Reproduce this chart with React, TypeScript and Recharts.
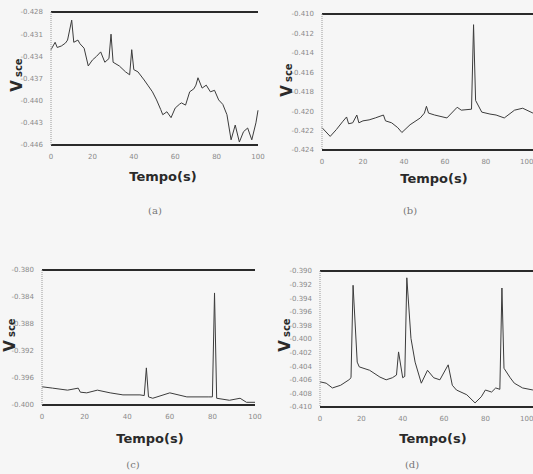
import React from 'react';
import { LineChart, Line, XAxis, YAxis, ReferenceLine } from 'recharts';

// panel (a)
const timeA = [0, 2, 3, 5, 7, 8, 10, 11, 13, 14, 16, 18, 20, 22, 24, 26, 28, 29, 30, 33, 36, 38, 39, 40, 42, 45, 47, 49, 51, 53, 54, 56, 58, 60, 62, 63, 65, 67, 69, 70, 71, 73, 75, 77, 79, 81, 83, 85, 87, 89, 91, 93, 95, 97, 99, 100];
const vsceA = [-0.4331, -0.4321, -0.4328, -0.4326, -0.4322, -0.4318, -0.4291, -0.4321, -0.4318, -0.4323, -0.4329, -0.4353, -0.4345, -0.4340, -0.4334, -0.4348, -0.4343, -0.4310, -0.4348, -0.4353, -0.4361, -0.4365, -0.4331, -0.4358, -0.4361, -0.4372, -0.4380, -0.4388, -0.4399, -0.4412, -0.4419, -0.4415, -0.4423, -0.4410, -0.4405, -0.4403, -0.4406, -0.4388, -0.4384, -0.4379, -0.4369, -0.4383, -0.4379, -0.4388, -0.4386, -0.4399, -0.4405, -0.4419, -0.4453, -0.4433, -0.4456, -0.4442, -0.4437, -0.4453, -0.4430, -0.4413];
const ticksA = [-0.446, -0.443, -0.44, -0.437, -0.434, -0.431, -0.428];

// panel (b)
const timeB = [0, 4, 7, 10, 12, 13, 15, 17, 18, 20, 23, 26, 30, 31, 34, 37, 39, 43, 48, 50, 51, 52, 55, 61, 66, 68, 73, 74, 75, 78, 82, 85, 89, 94, 98, 103];
const vsceB = [-0.4217, -0.4226, -0.4219, -0.4211, -0.4206, -0.4213, -0.4212, -0.4204, -0.4212, -0.4210, -0.4209, -0.4207, -0.4204, -0.4210, -0.4212, -0.4217, -0.4222, -0.4214, -0.4207, -0.4202, -0.4195, -0.4202, -0.4204, -0.4207, -0.4196, -0.4199, -0.4198, -0.4111, -0.4189, -0.4201, -0.4203, -0.4204, -0.4207, -0.4199, -0.4197, -0.4202];
const ticksB = [-0.424, -0.422, -0.42, -0.418, -0.416, -0.414, -0.412, -0.41];

// panel (c)
const timeC = [0, 5, 12, 17, 18, 21, 26, 32, 38, 46, 48, 49, 50, 52, 60, 68, 78, 80, 81, 82, 88, 93, 96, 100];
const vsceC = [-0.3973, -0.3975, -0.3978, -0.3975, -0.3981, -0.3982, -0.3978, -0.3982, -0.3985, -0.3985, -0.3986, -0.3945, -0.3988, -0.3990, -0.3982, -0.3988, -0.3988, -0.3988, -0.3834, -0.3990, -0.3993, -0.3990, -0.3996, -0.3996];
const ticksC = [-0.4, -0.396, -0.392, -0.388, -0.384, -0.38];

// panel (d)
const timeD = [0, 3, 6, 10, 14, 15, 16, 18, 19, 24, 29, 32, 35, 37, 38, 40, 41, 42, 44, 46, 49, 52, 55, 58, 62, 64, 66, 71, 75, 78, 80, 83, 85, 87, 88, 89, 92, 94, 98, 103];
const vsceD = [-0.4063, -0.4065, -0.4072, -0.4068, -0.4060, -0.4057, -0.3921, -0.4034, -0.4041, -0.4046, -0.4056, -0.4060, -0.4057, -0.4053, -0.4019, -0.4057, -0.4055, -0.3910, -0.3999, -0.4034, -0.4065, -0.4046, -0.4057, -0.4060, -0.4038, -0.4068, -0.4075, -0.4082, -0.4094, -0.4085, -0.4075, -0.4078, -0.4072, -0.4074, -0.3925, -0.4043, -0.4057, -0.4065, -0.4072, -0.4075];
const ticksD = [-0.41, -0.408, -0.406, -0.404, -0.402, -0.4, -0.398, -0.396, -0.394, -0.392, -0.39];

const xTicks = [0, 20, 40, 60, 80, 100];

const toRows = (t: number[], v: number[]) => t.map((x, i) => ({ t: x, v: v[i] }));

interface PanelProps {
  rows: { t: number; v: number }[];
  yTicks: number[];
  xMax: number;
  left: number;
  top: number;
  width: number;
  axisWidth: number;
  marginTop: number;
  marginRight: number;
  plotHeight: number;
}

function Panel({ rows, yTicks, xMax, left, top, width, axisWidth, marginTop, marginRight, plotHeight }: PanelProps) {
  const yMin = yTicks[0];
  const yMax = yTicks[yTicks.length - 1];
  const height = marginTop + plotHeight + 20;
  return (
    <div style={{ position: 'absolute', left, top }}>
      <LineChart width={width} height={height} data={rows} margin={{ top: marginTop, right: marginRight, bottom: 0, left: 0 }}>
        <XAxis
          dataKey="t"
          type="number"
          domain={[0, xMax]}
          ticks={xTicks}
          height={20}
          axisLine={{ stroke: '#2a2a2a', strokeWidth: 2 }}
          tickLine={false}
          tick={{ fontSize: 7, fill: '#8a8a8a', fontFamily: 'DejaVu Sans' }}
          tickMargin={3}
        />
        <YAxis
          type="number"
          domain={[yMin, yMax]}
          ticks={yTicks}
          width={axisWidth}
          tickFormatter={(v: number) => v.toFixed(3)}
          axisLine={{ stroke: '#9a9a9a', strokeDasharray: '1 1' }}
          tickLine={false}
          tick={{ fontSize: 7, fill: '#8a8a8a', fontFamily: 'DejaVu Sans' }}
          tickMargin={2}
        />
        <ReferenceLine y={yMax} stroke="#2a2a2a" strokeWidth={2} />
        <Line
          type="linear"
          dataKey="v"
          stroke="#3c3c3c"
          strokeWidth={1}
          dot={false}
          isAnimationActive={false}
        />
      </LineChart>
    </div>
  );
}

function VLabel({ x, y }: { x: number; y: number }) {
  return (
    <text transform={`translate(${x},${y}) rotate(-90)`} textAnchor="middle" fontFamily="DejaVu Sans" fontWeight="bold" fill="#2a2a2a">
      <tspan fontSize={15}>V</tspan>
      <tspan fontSize={10} dx={3}>sce</tspan>
    </text>
  );
}

function Caption({ x, y, children }: { x: number; y: number; children: string }) {
  return (
    <text x={x} y={y} textAnchor="middle" fontFamily="DejaVu Sans" fontWeight="bold" fontSize={13} fill="#2a2a2a">
      {children}
    </text>
  );
}

function Tag({ x, y, children }: { x: number; y: number; children: string }) {
  return (
    <text x={x} y={y} textAnchor="middle" fontFamily="DejaVu Serif" fontSize={10} fill="#777">
      {children}
    </text>
  );
}

export default function App() {
  return (
    <div style={{ position: 'fixed', left: 0, top: 0, width: 533, height: 474, overflow: 'hidden', background: '#f6f6f6' }}>
      <Panel rows={toRows(timeA, vsceA)} yTicks={ticksA} xMax={100} left={0} top={0} width={270} axisWidth={51} marginTop={12} marginRight={12} plotHeight={133} />
      <Panel rows={toRows(timeB, vsceB)} yTicks={ticksB} xMax={104} left={270} top={0} width={270} axisWidth={52} marginTop={14} marginRight={5} plotHeight={136} />
      <Panel rows={toRows(timeC, vsceC)} yTicks={ticksC} xMax={100} left={0} top={255} width={270} axisWidth={42} marginTop={15} marginRight={15} plotHeight={135} />
      <Panel rows={toRows(timeD, vsceD)} yTicks={ticksD} xMax={104} left={268} top={255} width={272} axisWidth={52} marginTop={16} marginRight={5} plotHeight={136} />
      <svg width={533} height={474} style={{ position: 'absolute', left: 0, top: 0, pointerEvents: 'none' }}>
        <VLabel x={22} y={75} />
        <VLabel x={292} y={80} />
        <VLabel x={15} y={335} />
        <VLabel x={290} y={335} />
        <Caption x={163} y={181}>Tempo(s)</Caption>
        <Caption x={434} y={183}>Tempo(s)</Caption>
        <Caption x={150} y={443}>Tempo(s)</Caption>
        <Caption x={433} y={443}>Tempo(s)</Caption>
        <Tag x={155} y={214}>(a)</Tag>
        <Tag x={410} y={214}>(b)</Tag>
        <Tag x={133} y={468}>(c)</Tag>
        <Tag x={412} y={468}>(d)</Tag>
      </svg>
    </div>
  );
}
